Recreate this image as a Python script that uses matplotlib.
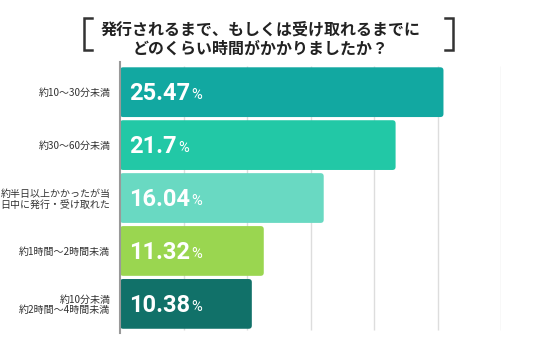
import matplotlib
matplotlib.use("Agg")
import matplotlib.pyplot as plt
from matplotlib.patches import FancyBboxPatch
from matplotlib.lines import Line2D

plt.rcParams['font.family'] = ['Noto Sans CJK JP', 'DejaVu Sans']

# data
categories = ['約10〜30分未満', '約30〜60分未満', '約半日以上かかったが当\n日中に発行・受け取れた',
              '約1時間〜2時間未満', '約10分未満\n約2時間〜4時間未満']
values = [25.47, 21.7, 16.04, 11.32, 10.38]
value_labels = ['25.47', '21.7', '16.04', '11.32', '10.38']
colors = ['#12a8a1', '#22c8a6', '#69d9c2', '#9ad650', '#117169']
grid_ticks = [5, 10, 15, 20, 25, 30]
title = '発行されるまで、もしくは受け取れるまでに\nどのくらい時間がかかりましたか？'

fig = plt.figure(figsize=(5.36, 3.53), dpi=100)
ax = fig.add_axes([120 / 536, 1 - 333 / 353, 381 / 536, 271 / 353])

ypos = list(range(len(values)))
bars = ax.barh(ypos, values, height=0.94, color=colors, zorder=2)
# swap the plain bars for rounded ones
for b in bars:
    x0, y0 = b.get_xy()
    fb = FancyBboxPatch((x0, y0), b.get_width(), b.get_height(),
                        boxstyle="round,pad=0,rounding_size=0.25",
                        mutation_aspect=0.24, fc=b.get_facecolor(), ec='none', zorder=2)
    b.remove()
    ax.add_patch(fb)

ax.set_xlim(0, 30)
ax.set_ylim(4.55, -0.57)
ax.vlines(grid_ticks, -0.49, 4.49, color='#dddddd', lw=1, zorder=1)

ax.set_yticks(ypos)
ax.set_yticklabels(categories, fontsize=7.2, color='#333333', linespacing=1.05)
ax.tick_params(axis='y', length=0, pad=7)
ax.set_xticks([])
for s in ['top', 'right', 'bottom']:
    ax.spines[s].set_visible(False)
ax.spines['left'].set_color('#999999')
ax.spines['left'].set_linewidth(1.5)
ax.spines['left'].set_zorder(3)

for i, lab in enumerate(value_labels):
    t = ax.annotate(lab, xy=(0, i), xytext=(6.5, -1), textcoords='offset points',
                    ha='left', va='center', color='white', fontsize=17,
                    fontweight='bold', family='Roboto', zorder=4)
    ax.annotate('%', xy=(1, 0), xycoords=t, xytext=(0.8, 2.2), textcoords='offset points',
                ha='left', va='bottom', color='white', fontsize=10.5, family='Roboto', zorder=4)

fig.text(261 / 536, 1 - 39 / 353, title, ha='center', va='center', fontsize=11.5,
         fontweight='bold', color='#222222', linespacing=1.2)

# brackets around the title
lw = 1.8
bc = '#333333'
for xs, ys in [([92, 84, 84, 92], [18, 18, 50, 50]), ([445, 453, 453, 445], [18, 18, 50, 50])]:
    fig.add_artist(Line2D([x / 536 for x in xs], [1 - y / 353 for y in ys],
                          color=bc, lw=lw, solid_joinstyle='miter'))

fig.savefig('out.png', dpi=100)
